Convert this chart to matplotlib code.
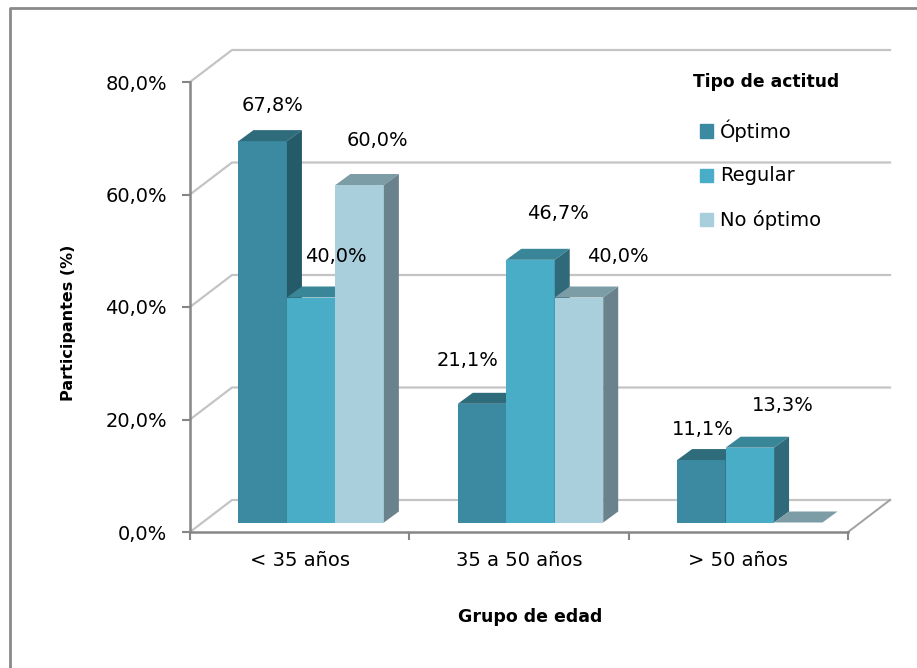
import matplotlib
matplotlib.use('Agg')
import numpy as np
import matplotlib.pyplot as plt
from matplotlib import transforms
from matplotlib.lines import Line2D
from matplotlib.patches import Polygon, Rectangle

# datos
grupos = ['< 35 años', '35 a 50 años', '> 50 años']
series = ['Óptimo', 'Regular', 'No óptimo']
optimo = [67.8, 21.1, 11.1]
regular = [40.0, 46.7, 13.3]
no_optimo = [60.0, 40.0, 0.0]
yticks = [0, 20, 40, 60, 80]

# colores: cara frontal, superior y lateral de cada serie
col_front = ['#3B8AA1', '#4AADC7', '#A9CFDD']
col_top = ['#2E6C7C', '#3A8699', '#7D9DA6']
col_side = ['#255A68', '#30697A', '#6A828C']

# desplazamiento de las etiquetas (pixeles), Excel las pone algo movidas en 3D
nudge = [[(10, 36), (25, 41), (18, 45)],
         [(-14, 43), (28, 46), (39, 41)],
         [(1, 31), (33, 42), None]]

W, H = 917, 668
fig = plt.figure(figsize=(W / 100, H / 100), dpi=100)
ax = fig.add_axes([190 / W, (H - 532) / H, 658 / W, 450 / H])
ax.set_xlim(0, 3)
ax.set_ylim(0, 80)
ax.patch.set_alpha(0)

DEPTH = np.array([42, 32])       # profundidad del suelo
BAR_OFF = np.array([11.5, 9.5])  # plano frontal de las barras
BAR_D = np.array([15, 11])       # profundidad de cada barra
bw = 0.221
ident = transforms.IdentityTransform()


def px(x, y, shift=(0, 0)):
    return ax.transData.transform((x, y)) + np.asarray(shift)


# pared del fondo y pared lateral
for v in yticks:
    a, b, c = px(0, v), px(0, v, DEPTH), px(3, v, DEPTH)
    ax.add_line(Line2D([a[0], b[0], c[0]], [a[1], b[1], c[1]], transform=ident,
                       color='#C4C4C4', lw=1.6, zorder=0, clip_on=False))
a, b = px(3, 0), px(3, 0, DEPTH)
ax.add_line(Line2D([a[0], b[0]], [a[1], b[1]], transform=ident,
                   color='#A0A0A0', lw=1.4, zorder=0, clip_on=False))

# barras
vals = [optimo, regular, no_optimo]
front_tr = transforms.offset_copy(ax.transData, fig=fig, x=BAR_OFF[0], y=BAR_OFF[1], units='dots')
z = 3
for g in range(len(grupos)):
    for s in range(len(series)):
        h = vals[s][g]
        x0 = g + 0.5 + (s - 1.5) * bw
        x1 = x0 + bw
        ax.bar(x0, h, width=bw, align='edge', color=col_front[s], transform=front_tr,
               zorder=z, clip_on=False)
        p0, p1 = px(x0, h, BAR_OFF), px(x1, h, BAR_OFF)
        b1 = px(x1, 0, BAR_OFF)
        ax.add_patch(Polygon([p0, p1, p1 + BAR_D, p0 + BAR_D], closed=True, transform=ident,
                             fc=col_top[s], ec='none', zorder=z, clip_on=False))
        if h > 0:
            ax.add_patch(Polygon([b1, p1, p1 + BAR_D, b1 + BAR_D], closed=True, transform=ident,
                                 fc=col_side[s], ec='none', zorder=z, clip_on=False))
        if nudge[g][s] is not None and h > 0:
            ax.annotate(f'{h:.1f}'.replace('.', ',') + '%', (x0 + bw / 2, h), xycoords=front_tr,
                        xytext=nudge[g][s], textcoords='offset pixels', ha='center', va='center',
                        fontsize=14, color='black', zorder=20, annotation_clip=False)
        z += 1

# ejes
for sp in ['top', 'right']:
    ax.spines[sp].set_visible(False)
for sp in ['left', 'bottom']:
    ax.spines[sp].set_color('#868686')
    ax.spines[sp].set_linewidth(1.8)
ax.set_yticks(yticks)
ax.set_yticklabels([f'{v:.1f}'.replace('.', ',') + '%' for v in yticks])
ax.tick_params(axis='y', direction='out', length=5.8, width=1.5, color='#868686', pad=10.8, labelsize=14)
ax.set_xticks([0, 1, 2, 3])
ax.set_xticklabels([])
ax.set_xticks([0.5, 1.5, 2.5], minor=True)
ax.set_xticklabels(grupos, minor=True)
ax.tick_params(axis='x', which='major', direction='out', length=5.5, width=1.5, color='#868686')
ax.tick_params(axis='x', which='minor', length=0, pad=14, labelsize=14)

fig.text(68 / W, 1 - 323 / H, 'Participantes (%)', rotation=90, ha='center', va='center',
         fontsize=11.5, fontweight='bold')
fig.text(530 / W, 1 - 617 / H, 'Grupo de edad', ha='center', va='center',
         fontsize=12.5, fontweight='bold')

# leyenda
fig.text(693 / W, 1 - 82 / H, 'Tipo de actitud', ha='left', va='center', fontsize=12.3, fontweight='bold')
for i, (name, c) in enumerate(zip(series, col_front)):
    yc = 131 + i * 44.5
    fig.add_artist(Rectangle((700 / W, 1 - (yc + 6.5) / H), 13 / W, 13 / H,
                             transform=fig.transFigure, color=c))
    fig.text(720 / W, 1 - yc / H, name, ha='left', va='center', fontsize=14)

# borde
fig.add_artist(Line2D([10 / W, 10 / W, 1], [0, 1 - 8 / H, 1 - 8 / H], transform=fig.transFigure,
                      color='#8A8A8A', lw=2))

fig.savefig('out.png', dpi=100)
